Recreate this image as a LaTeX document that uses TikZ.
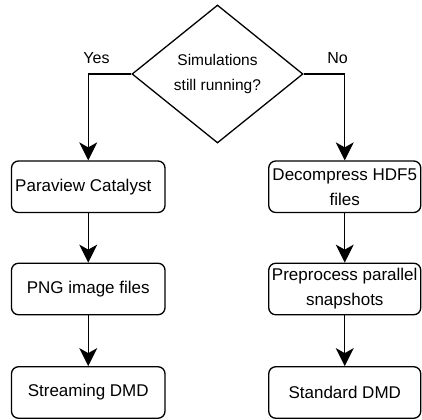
\documentclass[tikz,border=0pt]{standalone}
\usepackage{fontspec}
\setmainfont{Liberation Sans}
\usetikzlibrary{arrows.meta,shapes.geometric}
\begin{document}
\begin{tikzpicture}[x=1bp,y=-1bp,
  line width=1.3bp,
  box/.style={draw, rounded corners=7bp, minimum width=153.5bp, minimum height=51.5bp,
    inner sep=0pt, align=center, font=\fontsize{17bp}{25bp}\selectfont},
  decision/.style={draw, shape=diamond, minimum width=171bp, minimum height=138bp,
    inner sep=0pt, align=center, font=\fontsize{15.5bp}{25bp}\selectfont},
  lbl/.style={inner sep=0pt, font=\fontsize{16bp}{19bp}\selectfont},
  arr/.style={-{Stealth[length=18bp,width=18bp,inset=5bp]}}]
\useasboundingbox (0,0) rectangle (422,420);
\node[decision] (d) at (217.5,74) {Simulations\\still running?};
\node[box] (p1) at (88.25,186.75) {Paraview Catalyst\hspace*{10bp}};
\node[box] (p2) at (88.25,289) {PNG image files};
\node[box] (p3) at (88.25,392.5) {Streaming DMD};
\node[box, minimum width=152bp] (q1) at (344.75,186.75) {Decompress HDF5\\files};
\node[box, minimum width=152bp] (q2) at (344.75,289) {Preprocess parallel\\snapshots};
\node[box, minimum width=152bp] (q3) at (344.75,392.5) {Standard DMD};
\node[lbl] (yes) at (96.5,58) {Yes};
\node[lbl] (no) at (337.5,58) {No};
\draw[arr] (d.west) -| (p1.north);
\draw[arr] (d.east) -| (q1.north);
\draw[arr] (p1) -- (p2);
\draw[arr] (p2) -- (p3);
\draw[arr] (q1) -- (q2);
\draw[arr] (q2) -- (q3);
\end{tikzpicture}
\end{document}
